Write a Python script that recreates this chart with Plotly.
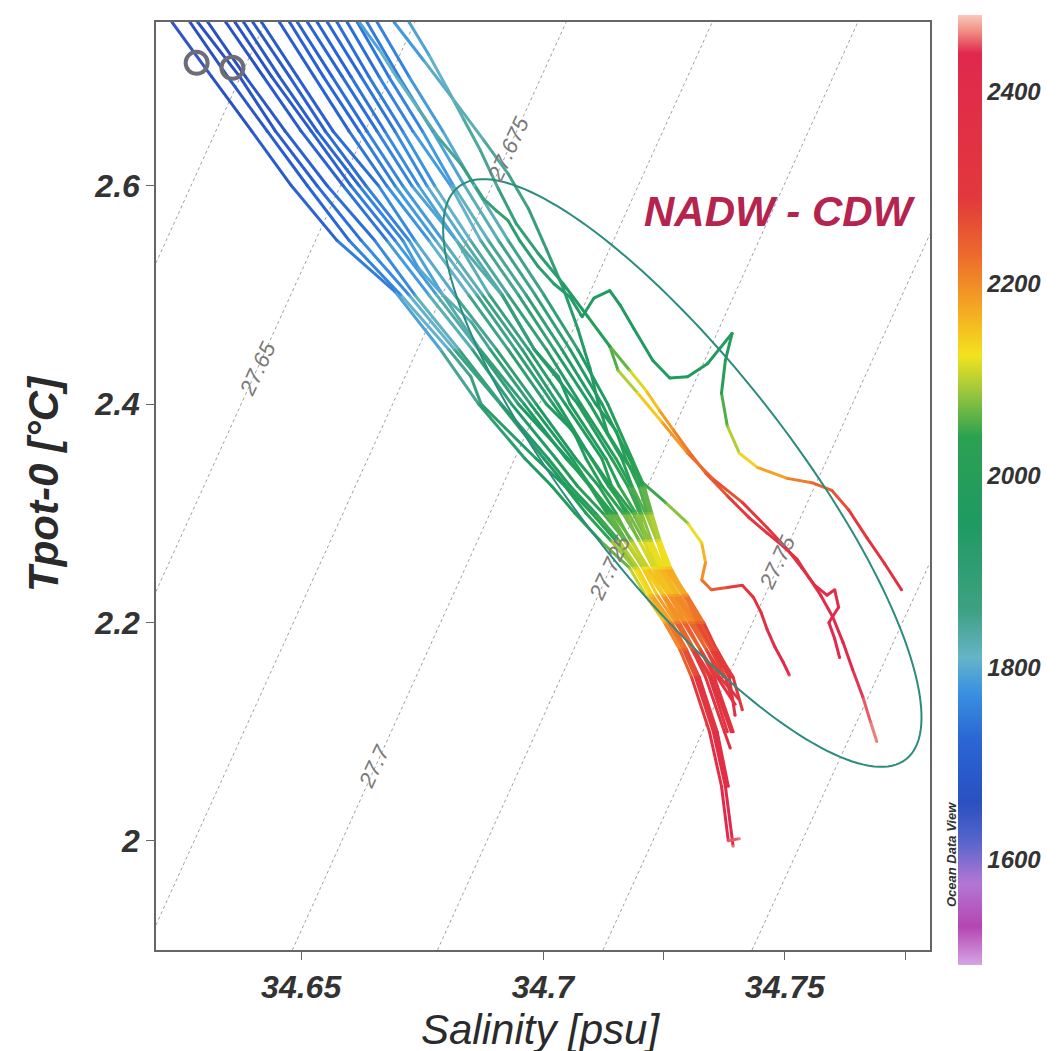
import math
import plotly.graph_objects as go
from plotly.colors import sample_colorscale

# ---------------- data (salinity [psu], potential temperature [degC], depth [m]) ----------------
sal_b1 = [34.6233, 34.6315, 34.6398, 34.6480, 34.6574, 34.6694, 34.6788, 34.6867, 34.6963, 34.7018, 34.7066, 34.7118, 34.7179, 34.7212, 34.7251, 34.7283, 34.7307, 34.7344, 34.7369, 34.7383, 34.7406]
tpot_b1 = [2.750, 2.700, 2.650, 2.600, 2.550, 2.503, 2.450, 2.400, 2.350, 2.325, 2.300, 2.275, 2.250, 2.225, 2.200, 2.175, 2.150, 2.100, 2.050, 2.000, 2.002]
dep_b1 = [1640, 1660, 1680, 1700, 1730, 1770, 1820, 1880, 1940, 1965, 1995, 2040, 2085, 2130, 2175, 2225, 2270, 2340, 2400, 2450, 2460]

sal_b2 = [34.6270, 34.6348, 34.6430, 34.6513, 34.6599, 34.6706, 34.6805, 34.6851, 34.6872, 34.6986, 34.7045, 34.7089, 34.7140, 34.7188, 34.7220, 34.7258, 34.7290, 34.7315, 34.7352, 34.7377, 34.7393]
tpot_b2 = [2.750, 2.700, 2.650, 2.600, 2.550, 2.500, 2.450, 2.425, 2.400, 2.350, 2.325, 2.300, 2.275, 2.250, 2.225, 2.200, 2.175, 2.150, 2.100, 2.050, 1.995]
dep_b2 = [1650, 1670, 1690, 1710, 1740, 1780, 1830, 1860, 1890, 1950, 1985, 2015, 2060, 2110, 2150, 2195, 2240, 2285, 2350, 2410, 2460]

sal_b3 = [34.6307, 34.6385, 34.6467, 34.6554, 34.6652, 34.6735, 34.6826, 34.6914, 34.7011, 34.7056, 34.7109, 34.7157, 34.7196, 34.7226, 34.7266, 34.7297, 34.7323, 34.7360, 34.7383]
tpot_b3 = [2.750, 2.700, 2.650, 2.600, 2.550, 2.500, 2.450, 2.400, 2.350, 2.325, 2.300, 2.275, 2.250, 2.225, 2.200, 2.175, 2.150, 2.100, 2.050]
dep_b3 = [1650, 1670, 1700, 1720, 1750, 1790, 1840, 1900, 1960, 1990, 2025, 2070, 2115, 2160, 2205, 2250, 2295, 2360, 2420]

sal_c1 = [34.6286, 34.6373, 34.6447, 34.6533, 34.6624, 34.6723, 34.6817, 34.6912, 34.7002, 34.7048, 34.7101, 34.7150, 34.7192, 34.7224, 34.7262, 34.7293, 34.7319, 34.7356, 34.7379]
tpot_c1 = [2.750, 2.700, 2.650, 2.600, 2.550, 2.500, 2.450, 2.400, 2.350, 2.325, 2.300, 2.275, 2.250, 2.225, 2.200, 2.175, 2.150, 2.100, 2.050]
dep_c1 = [1645, 1665, 1690, 1715, 1745, 1785, 1835, 1895, 1955, 1980, 2010, 2060, 2100, 2145, 2190, 2240, 2285, 2355, 2415]

sal_c2 = [34.6363, 34.6439, 34.6521, 34.6603, 34.6694, 34.6780, 34.6867, 34.6949, 34.7052, 34.7096, 34.7132, 34.7168, 34.7210, 34.7247, 34.7278, 34.7308, 34.7344, 34.7381]
tpot_c2 = [2.750, 2.700, 2.650, 2.600, 2.550, 2.500, 2.450, 2.400, 2.350, 2.325, 2.300, 2.275, 2.250, 2.225, 2.200, 2.175, 2.150, 2.100]
dep_c2 = [1660, 1680, 1705, 1735, 1765, 1805, 1855, 1915, 1975, 2005, 2040, 2080, 2120, 2165, 2210, 2255, 2300, 2370]

sal_b4 = [34.6344, 34.6422, 34.6500, 34.6587, 34.6677, 34.6764, 34.6854, 34.6935, 34.7027, 34.7071, 34.7124, 34.7170, 34.7206, 34.7236, 34.7274, 34.7309, 34.7336, 34.7375, 34.7387]
tpot_b4 = [2.750, 2.700, 2.650, 2.600, 2.550, 2.500, 2.450, 2.400, 2.350, 2.325, 2.300, 2.275, 2.250, 2.225, 2.200, 2.175, 2.150, 2.100, 2.085]
dep_b4 = [1660, 1680, 1700, 1730, 1760, 1800, 1850, 1910, 1970, 2000, 2035, 2075, 2125, 2165, 2215, 2260, 2305, 2370, 2390]

sal_b5 = [34.6381, 34.6455, 34.6533, 34.6620, 34.6710, 34.6742, 34.6793, 34.6870, 34.6961, 34.7048, 34.7099, 34.7138, 34.7172, 34.7212, 34.7251, 34.7282, 34.7313, 34.7348, 34.7389]
tpot_b5 = [2.750, 2.700, 2.650, 2.600, 2.550, 2.525, 2.500, 2.450, 2.400, 2.350, 2.325, 2.300, 2.275, 2.250, 2.225, 2.200, 2.175, 2.150, 2.100]
dep_b5 = [1670, 1690, 1710, 1740, 1770, 1790, 1810, 1860, 1920, 1980, 2010, 2045, 2085, 2125, 2170, 2215, 2260, 2305, 2380]

sal_c3 = [34.6400, 34.6476, 34.6550, 34.6634, 34.6723, 34.6793, 34.6852, 34.6891, 34.6974, 34.7060, 34.7098, 34.7144, 34.7184, 34.7216, 34.7250, 34.7290, 34.7325, 34.7354, 34.7393]
tpot_c3 = [2.750, 2.700, 2.650, 2.600, 2.550, 2.500, 2.475, 2.450, 2.400, 2.350, 2.325, 2.300, 2.275, 2.250, 2.225, 2.200, 2.175, 2.150, 2.100]
dep_c3 = [1675, 1695, 1715, 1745, 1775, 1815, 1840, 1865, 1920, 1980, 2010, 2040, 2085, 2125, 2170, 2215, 2260, 2305, 2375]

sal_b6 = [34.6418, 34.6492, 34.6566, 34.6660, 34.6735, 34.6817, 34.6904, 34.6986, 34.7068, 34.7115, 34.7151, 34.7181, 34.7218, 34.7260, 34.7295, 34.7326, 34.7360, 34.7397]
tpot_b6 = [2.750, 2.700, 2.650, 2.600, 2.550, 2.500, 2.450, 2.400, 2.350, 2.325, 2.300, 2.275, 2.250, 2.225, 2.200, 2.175, 2.150, 2.125]
dep_b6 = [1680, 1700, 1720, 1750, 1780, 1820, 1870, 1920, 1980, 2010, 2040, 2085, 2130, 2175, 2220, 2265, 2310, 2350]

sal_b7 = [34.6455, 34.6527, 34.6599, 34.6677, 34.6764, 34.6846, 34.6928, 34.7007, 34.7063, 34.7089, 34.7122, 34.7165, 34.7199, 34.7227, 34.7262, 34.7303, 34.7338, 34.7365, 34.7404]
tpot_b7 = [2.750, 2.700, 2.650, 2.600, 2.550, 2.500, 2.450, 2.400, 2.375, 2.350, 2.325, 2.300, 2.275, 2.250, 2.225, 2.200, 2.175, 2.150, 2.130]
dep_b7 = [1690, 1710, 1730, 1760, 1790, 1830, 1880, 1930, 1960, 1990, 2020, 2050, 2090, 2130, 2175, 2220, 2260, 2300, 2340]

sal_c4 = [34.6476, 34.6546, 34.6620, 34.6694, 34.6778, 34.6863, 34.6943, 34.7021, 34.7101, 34.7140, 34.7171, 34.7198, 34.7231, 34.7272, 34.7307, 34.7338, 34.7373]
tpot_c4 = [2.750, 2.700, 2.650, 2.600, 2.550, 2.500, 2.450, 2.400, 2.350, 2.325, 2.300, 2.275, 2.250, 2.225, 2.200, 2.175, 2.150]
dep_c4 = [1695, 1715, 1735, 1765, 1795, 1835, 1885, 1935, 1990, 2020, 2050, 2090, 2130, 2175, 2220, 2260, 2300]

sal_b8 = [34.6492, 34.6564, 34.6636, 34.6710, 34.6793, 34.6875, 34.6957, 34.7031, 34.7100, 34.7135, 34.7177, 34.7208, 34.7233, 34.7268, 34.7311, 34.7347, 34.7377, 34.7391]
tpot_b8 = [2.750, 2.700, 2.650, 2.600, 2.550, 2.500, 2.450, 2.400, 2.350, 2.325, 2.300, 2.275, 2.250, 2.225, 2.200, 2.175, 2.150, 2.130]
dep_b8 = [1700, 1720, 1740, 1770, 1800, 1840, 1890, 1940, 1990, 2020, 2050, 2090, 2130, 2175, 2220, 2260, 2300, 2330]

sal_c5 = [34.6513, 34.6585, 34.6657, 34.6729, 34.6821, 34.6889, 34.6970, 34.7046, 34.7122, 34.7142, 34.7186, 34.7215, 34.7237, 34.7272, 34.7315, 34.7352, 34.7385]
tpot_c5 = [2.750, 2.700, 2.650, 2.600, 2.550, 2.500, 2.450, 2.400, 2.350, 2.325, 2.300, 2.275, 2.250, 2.225, 2.200, 2.175, 2.150]
dep_c5 = [1705, 1725, 1745, 1775, 1805, 1845, 1895, 1945, 1995, 2025, 2055, 2095, 2135, 2180, 2225, 2265, 2305]

sal_b9 = [34.6533, 34.6603, 34.6673, 34.6743, 34.6821, 34.6915, 34.6982, 34.7032, 34.7056, 34.7130, 34.7157, 34.7192, 34.7220, 34.7241, 34.7277, 34.7319, 34.7355, 34.7385, 34.7397]
tpot_b9 = [2.750, 2.700, 2.650, 2.600, 2.550, 2.500, 2.450, 2.425, 2.400, 2.350, 2.325, 2.300, 2.275, 2.250, 2.225, 2.200, 2.175, 2.150, 2.115]
dep_b9 = [1710, 1730, 1750, 1780, 1810, 1850, 1900, 1925, 1950, 2000, 2030, 2060, 2100, 2140, 2185, 2230, 2270, 2310, 2360]

sal_c6 = [34.6554, 34.6624, 34.6694, 34.6760, 34.6836, 34.6916, 34.6982, 34.7072, 34.7142, 34.7175, 34.7200, 34.7213, 34.7245, 34.7281, 34.7323, 34.7360, 34.7391]
tpot_c6 = [2.750, 2.700, 2.650, 2.600, 2.550, 2.500, 2.450, 2.400, 2.350, 2.325, 2.300, 2.275, 2.250, 2.225, 2.200, 2.175, 2.150]
dep_c6 = [1715, 1735, 1755, 1785, 1815, 1855, 1905, 1955, 2005, 2035, 2060, 2100, 2140, 2185, 2230, 2270, 2310]

sal_b10 = [34.6574, 34.6640, 34.6710, 34.6776, 34.6850, 34.6928, 34.7007, 34.7078, 34.7151, 34.7182, 34.7204, 34.7224, 34.7249, 34.7292, 34.7328, 34.7358, 34.7393, 34.7412]
tpot_b10 = [2.750, 2.700, 2.650, 2.600, 2.550, 2.500, 2.450, 2.400, 2.350, 2.325, 2.300, 2.275, 2.250, 2.225, 2.200, 2.175, 2.150, 2.120]
dep_b10 = [1720, 1740, 1760, 1790, 1820, 1860, 1910, 1960, 2010, 2035, 2060, 2100, 2140, 2185, 2230, 2270, 2310, 2350]

sal_c7 = [34.6595, 34.6661, 34.6731, 34.6809, 34.6871, 34.6949, 34.7023, 34.7097, 34.7163, 34.7184, 34.7212, 34.7236, 34.7253, 34.7289, 34.7330]
tpot_c7 = [2.750, 2.700, 2.650, 2.600, 2.550, 2.500, 2.450, 2.400, 2.350, 2.325, 2.300, 2.275, 2.250, 2.225, 2.200]
dep_c7 = [1725, 1745, 1765, 1795, 1825, 1865, 1915, 1960, 2010, 2040, 2065, 2105, 2145, 2190, 2235]

sal_b11 = [34.6616, 34.6681, 34.6751, 34.6815, 34.6887, 34.6965, 34.7039, 34.7109, 34.7152, 34.7171, 34.7198, 34.7216, 34.7235, 34.7258, 34.7298, 34.7332, 34.7381]
tpot_b11 = [2.750, 2.700, 2.650, 2.600, 2.550, 2.500, 2.450, 2.400, 2.375, 2.350, 2.325, 2.300, 2.275, 2.250, 2.225, 2.200, 2.155]
dep_b11 = [1730, 1750, 1770, 1800, 1830, 1870, 1920, 1960, 1985, 2010, 2040, 2070, 2110, 2150, 2195, 2240, 2310]

sal_c8 = [34.6636, 34.6702, 34.6772, 34.6838, 34.6908, 34.6984, 34.7056, 34.7122, 34.7179, 34.7204, 34.7221, 34.7238, 34.7260, 34.7296, 34.7325]
tpot_c8 = [2.750, 2.700, 2.650, 2.600, 2.550, 2.500, 2.450, 2.400, 2.350, 2.325, 2.300, 2.275, 2.250, 2.225, 2.200]
dep_c8 = [1740, 1760, 1780, 1805, 1835, 1875, 1920, 1965, 2015, 2045, 2075, 2110, 2150, 2195, 2240]

sal_b12 = [34.6657, 34.6723, 34.6793, 34.6858, 34.6928, 34.7002, 34.7072, 34.7134, 34.7184, 34.7209, 34.7225, 34.7242, 34.7264, 34.7295, 34.7319, 34.7369]
tpot_b12 = [2.750, 2.700, 2.650, 2.600, 2.550, 2.500, 2.450, 2.400, 2.350, 2.325, 2.300, 2.275, 2.250, 2.225, 2.200, 2.160]
dep_b12 = [1750, 1770, 1790, 1810, 1840, 1880, 1920, 1970, 2020, 2050, 2080, 2115, 2150, 2195, 2240, 2300]

sal_e1 = [34.6620, 34.6661, 34.6698, 34.6743, 34.6784, 34.6830, 34.6877, 34.6904, 34.6928, 34.6953, 34.6990, 34.7023,
          34.7056, 34.7081, 34.7105, 34.7138, 34.7159, 34.7188, 34.7227, 34.7262, 34.7299, 34.7340, 34.7391, 34.7377,
          34.7369, 34.7381, 34.7406, 34.7443, 34.7505, 34.7556, 34.7597, 34.7632, 34.7669, 34.7706, 34.7741]
tpot_e1 = [2.750, 2.725, 2.699, 2.670, 2.644, 2.620, 2.588, 2.577, 2.568, 2.549, 2.526, 2.510,
           2.498, 2.480, 2.497, 2.504, 2.491, 2.469, 2.440, 2.424, 2.425, 2.437, 2.465, 2.440,
           2.410, 2.380, 2.355, 2.342, 2.332, 2.328, 2.321, 2.303, 2.278, 2.254, 2.230]
dep_e1 = [1790, 1800, 1810, 1825, 1840, 1860, 1880, 1890, 1900, 1910, 1915, 1920,
          1930, 1935, 1940, 1945, 1950, 1955, 1960, 1965, 1970, 1975, 1980, 2000,
          2030, 2080, 2120, 2160, 2200, 2230, 2250, 2280, 2320, 2360, 2400]

sal_e2 = [34.6723, 34.6764, 34.6801, 34.6836, 34.6871, 34.6908, 34.6945, 34.6990, 34.7042, 34.7093, 34.7138, 34.7179,
          34.7212, 34.7241, 34.7270, 34.7299, 34.7336, 34.7381, 34.7426, 34.7463, 34.7496, 34.7525, 34.7550, 34.7574,
          34.7599, 34.7620, 34.7640, 34.7661, 34.7677, 34.7690]
tpot_e2 = [2.750, 2.720, 2.690, 2.661, 2.632, 2.597, 2.565, 2.538, 2.510, 2.480, 2.453, 2.431,
           2.413, 2.394, 2.376, 2.358, 2.337, 2.316, 2.296, 2.282, 2.270, 2.258, 2.241, 2.225,
           2.205, 2.182, 2.157, 2.132, 2.109, 2.091]
dep_e2 = [1790, 1800, 1815, 1830, 1845, 1860, 1880, 1900, 1930, 1970, 2030, 2090,
          2130, 2170, 2200, 2220, 2240, 2270, 2300, 2330, 2350, 2370, 2390, 2400,
          2415, 2425, 2435, 2445, 2455, 2460]

sal_e3 = [34.7138, 34.7155, 34.7196, 34.7247, 34.7299, 34.7350, 34.7412, 34.7463, 34.7505, 34.7535, 34.7562, 34.7587,
          34.7603, 34.7611, 34.7591, 34.7603, 34.7613]
tpot_e3 = [2.453, 2.431, 2.410, 2.383, 2.355, 2.332, 2.310, 2.287, 2.267, 2.250, 2.234, 2.225,
           2.230, 2.214, 2.200, 2.185, 2.168]
dep_e3 = [2030, 2080, 2120, 2170, 2210, 2240, 2280, 2320, 2350, 2370, 2390, 2400,
          2405, 2410, 2415, 2425, 2435]

sal_e4 = [34.6692, 34.6753, 34.6815, 34.6877, 34.6928, 34.6970, 34.7007, 34.7042, 34.7072, 34.7097, 34.7114, 34.7134,
          34.7165, 34.7206, 34.7253, 34.7299, 34.7328, 34.7336, 34.7328, 34.7348, 34.7381, 34.7412, 34.7435, 34.7451,
          34.7463, 34.7480, 34.7496, 34.7509]
tpot_e4 = [2.750, 2.715, 2.679, 2.642, 2.611, 2.579, 2.542, 2.506, 2.469, 2.433, 2.401, 2.373,
           2.351, 2.328, 2.310, 2.291, 2.273, 2.255, 2.239, 2.230, 2.232, 2.234, 2.223, 2.209,
           2.194, 2.177, 2.164, 2.152]
dep_e4 = [1770, 1790, 1810, 1830, 1850, 1870, 1890, 1910, 1930, 1950, 1970, 1990,
          2010, 2030, 2060, 2100, 2140, 2180, 2210, 2240, 2270, 2300, 2330, 2360,
          2390, 2410, 2430, 2445]

# station markers
station_sal = [34.6284, 34.6358]
station_tpot = [2.7126, 2.7080]

# isopycnals (sigma-0): end points
iso_sigma = ["27.625", "27.65", "27.675", "27.7", "27.725", "27.75", "27.775"]
iso_sal0 = [34.6200, 34.6200, 34.6200, 34.6482, 34.6782, 34.7124, 34.7432]
iso_tpot0 = [2.5293, 2.2284, 1.9229, 1.9000, 1.9000, 1.9000, 1.9000]
iso_sal1 = [34.6426, 34.6735, 34.7048, 34.7350, 34.7651, 34.7800, 34.7800]
iso_tpot1 = [2.7500, 2.7500, 2.7500, 2.7500, 2.7500, 2.5558, 2.2549]
iso_lab_text = ["27.65", "27.675", "27.7", "27.725", "27.75"]
iso_lab_sal = [34.6410, 34.6928, 34.6651, 34.7138, 34.7484]
iso_lab_tpot = [2.4327, 2.6333, 2.0680, 2.2503, 2.2549]

depth_ticks = [1600, 1800, 2000, 2200, 2400]
sal_ticks = [34.65, 34.70, 34.725, 34.75, 34.775]
sal_ticktext = ["34.65", "34.7", "", "34.75", ""]
tpot_ticks = [2.0, 2.2, 2.4, 2.6]
tpot_ticktext = ["2", "2.2", "2.4", "2.6"]

profiles = [
    (sal_b1, tpot_b1, dep_b1), (sal_c1, tpot_c1, dep_c1), (sal_b2, tpot_b2, dep_b2),
    (sal_b3, tpot_b3, dep_b3), (sal_c2, tpot_c2, dep_c2), (sal_b4, tpot_b4, dep_b4),
    (sal_b5, tpot_b5, dep_b5), (sal_c3, tpot_c3, dep_c3), (sal_b6, tpot_b6, dep_b6),
    (sal_b7, tpot_b7, dep_b7), (sal_c4, tpot_c4, dep_c4), (sal_b8, tpot_b8, dep_b8),
    (sal_c5, tpot_c5, dep_c5), (sal_b9, tpot_b9, dep_b9), (sal_c6, tpot_c6, dep_c6),
    (sal_b10, tpot_b10, dep_b10), (sal_c7, tpot_c7, dep_c7), (sal_b11, tpot_b11, dep_b11),
    (sal_c8, tpot_c8, dep_c8), (sal_b12, tpot_b12, dep_b12),
    (sal_e1, tpot_e1, dep_e1), (sal_e2, tpot_e2, dep_e2), (sal_e3, tpot_e3, dep_e3),
    (sal_e4, tpot_e4, dep_e4),
]

# ---------------- style ----------------
DMIN, DMAX = 1490, 2480
odv_stops = [(1490, '#d4a6e4'), (1530, '#b546b2'), (1575, '#b277d4'), (1620, '#5564cc'),
             (1660, '#2a50c0'), (1725, '#2a66d4'), (1775, '#3a92e0'), (1810, '#66b4c8'),
             (1860, '#3ea182'), (1950, '#1f9a62'), (2040, '#2ba152'), (2090, '#a2c93a'),
             (2125, '#f2e21e'), (2175, '#f5a623'), (2230, '#ec6a2c'), (2290, '#e2383c'),
             (2440, '#e0284e'), (2462, '#f08a80'), (2480, '#f8c8b8')]
cscale = [[(d - DMIN) / (DMAX - DMIN), c] for d, c in odv_stops]

FONT = "Liberation Sans, Arial, sans-serif"
LW = 3.0

fig = go.Figure()

# isopycnals
for s0, t0, s1, t1 in zip(iso_sal0, iso_tpot0, iso_sal1, iso_tpot1):
    fig.add_trace(go.Scatter(x=[s0, s1], y=[t0, t1], mode='lines',
                             line=dict(color='#a0a0a0', width=1, dash='dot'),
                             hoverinfo='skip', showlegend=False))

# coloured profile segments, grouped by depth colour
NB = 120
seg_x = [[] for _ in range(NB)]
seg_y = [[] for _ in range(NB)]
for S, T, D in profiles:
    for k in range(len(S) - 1):
        f = ((D[k] + D[k + 1]) / 2 - DMIN) / (DMAX - DMIN)
        b = min(NB - 1, max(0, int(f * NB)))
        seg_x[b] += [S[k], S[k + 1], None]
        seg_y[b] += [T[k], T[k + 1], None]
for b in range(NB):
    if seg_x[b]:
        col = sample_colorscale(cscale, [(b + 0.5) / NB])[0]
        fig.add_trace(go.Scatter(x=seg_x[b], y=seg_y[b], mode='lines',
                                 line=dict(color=col, width=LW),
                                 hoverinfo='skip', showlegend=False))

# vertices (fill joints) + colour bar
all_s, all_t, all_d = [], [], []
for S, T, D in profiles:
    all_s += S
    all_t += T
    all_d += D
fig.add_trace(go.Scatter(
    x=all_s, y=all_t, mode='markers', hoverinfo='skip', showlegend=False,
    marker=dict(size=LW, color=all_d, colorscale=cscale, cmin=DMIN, cmax=DMAX,
                line=dict(width=0), showscale=True,
                colorbar=dict(tickvals=depth_ticks, ticks='', thickness=24,
                              lenmode='pixels', len=950, y=(950 - 490) / 928, yanchor='middle',
                              x=(958 - 156) / 774, xanchor='left', xpad=0, ypad=0,
                              outlinewidth=0,
                              tickfont=dict(family=FONT, size=24, color='#333',
                                            style='italic', weight='bold')))))

# station markers
fig.add_trace(go.Scatter(x=station_sal, y=station_tpot, mode='markers', hoverinfo='skip', showlegend=False,
                         marker=dict(symbol='circle-open', size=22, color='#6d6d78', line=dict(width=4))))

# ellipse (NADW-CDW outline): centre and half-axis vectors in data units
ell_c = (34.7288, 2.3369)
ell_u = (0.04624, -0.2622)
ell_v = (-0.01751, -0.0606)
pts = []
for i in range(181):
    t = 2 * math.pi * i / 180
    pts.append((ell_c[0] + ell_u[0] * math.cos(t) + ell_v[0] * math.sin(t),
                ell_c[1] + ell_u[1] * math.cos(t) + ell_v[1] * math.sin(t)))
path = "M " + " L ".join(f"{x},{y}" for x, y in pts) + " Z"
fig.add_shape(type='path', path=path, xref='x', yref='y',
              line=dict(color='#2b8c7c', width=2), layer='above')

annotations = []
for txt, s, t in zip(iso_lab_text, iso_lab_sal, iso_lab_tpot):
    annotations.append(dict(x=s, y=t, xref='x', yref='y', text=txt, showarrow=False,
                            xanchor='center', yanchor='middle', textangle=-65,
                            font=dict(family=FONT, size=22, color='#7a7a7a', style='italic')))
annotations.append(dict(x=34.7490, y=2.5768, xref='x', yref='y', text='NADW - CDW', showarrow=False,
                        xanchor='center', yanchor='middle',
                        font=dict(family=FONT, size=42, color='#b5234f', style='italic', weight='bold')))
annotations.append(dict(x=(540 - 156) / 774, y=(950 - 1029) / 928, xref='paper', yref='paper',
                        text='Salinity [psu]', showarrow=False, xanchor='center', yanchor='middle',
                        font=dict(family=FONT, size=42, color='#2a2a2a', style='italic')))
annotations.append(dict(x=(44 - 156) / 774, y=(950 - 484) / 928, xref='paper', yref='paper',
                        text='Tpot-0 [°C]', showarrow=False, textangle=-90,
                        xanchor='center', yanchor='middle',
                        font=dict(family=FONT, size=42, color='#2a2a2a', style='italic', weight='bold')))
annotations.append(dict(x=(951 - 156) / 774, y=(950 - 855) / 928, xref='paper', yref='paper',
                        text='Ocean Data View', showarrow=False, textangle=-90,
                        xanchor='center', yanchor='middle',
                        font=dict(family=FONT, size=13, color='#333', style='italic', weight='bold')))

axis_common = dict(showgrid=False, zeroline=False, ticks='outside', ticklen=8, tickwidth=1.2,
                   tickcolor='#666', showline=True, linecolor='#666', linewidth=1.5, mirror=True,
                   tickfont=dict(family=FONT, size=32, color='#333', style='italic', weight='bold'))
# the page body adds an 8px offset: top/left margins are reduced to compensate
fig.update_layout(
    width=1060, height=1051,
    margin=dict(l=148, r=138, t=14, b=109, autoexpand=False),
    paper_bgcolor='white', plot_bgcolor='white',
    xaxis=dict(range=[34.62, 34.78], tickvals=sal_ticks, ticktext=sal_ticktext, **axis_common),
    yaxis=dict(range=[1.9, 2.75], tickvals=tpot_ticks, ticktext=tpot_ticktext, **axis_common),
    annotations=annotations,
    showlegend=False,
)
fig.write_html("out.html")
